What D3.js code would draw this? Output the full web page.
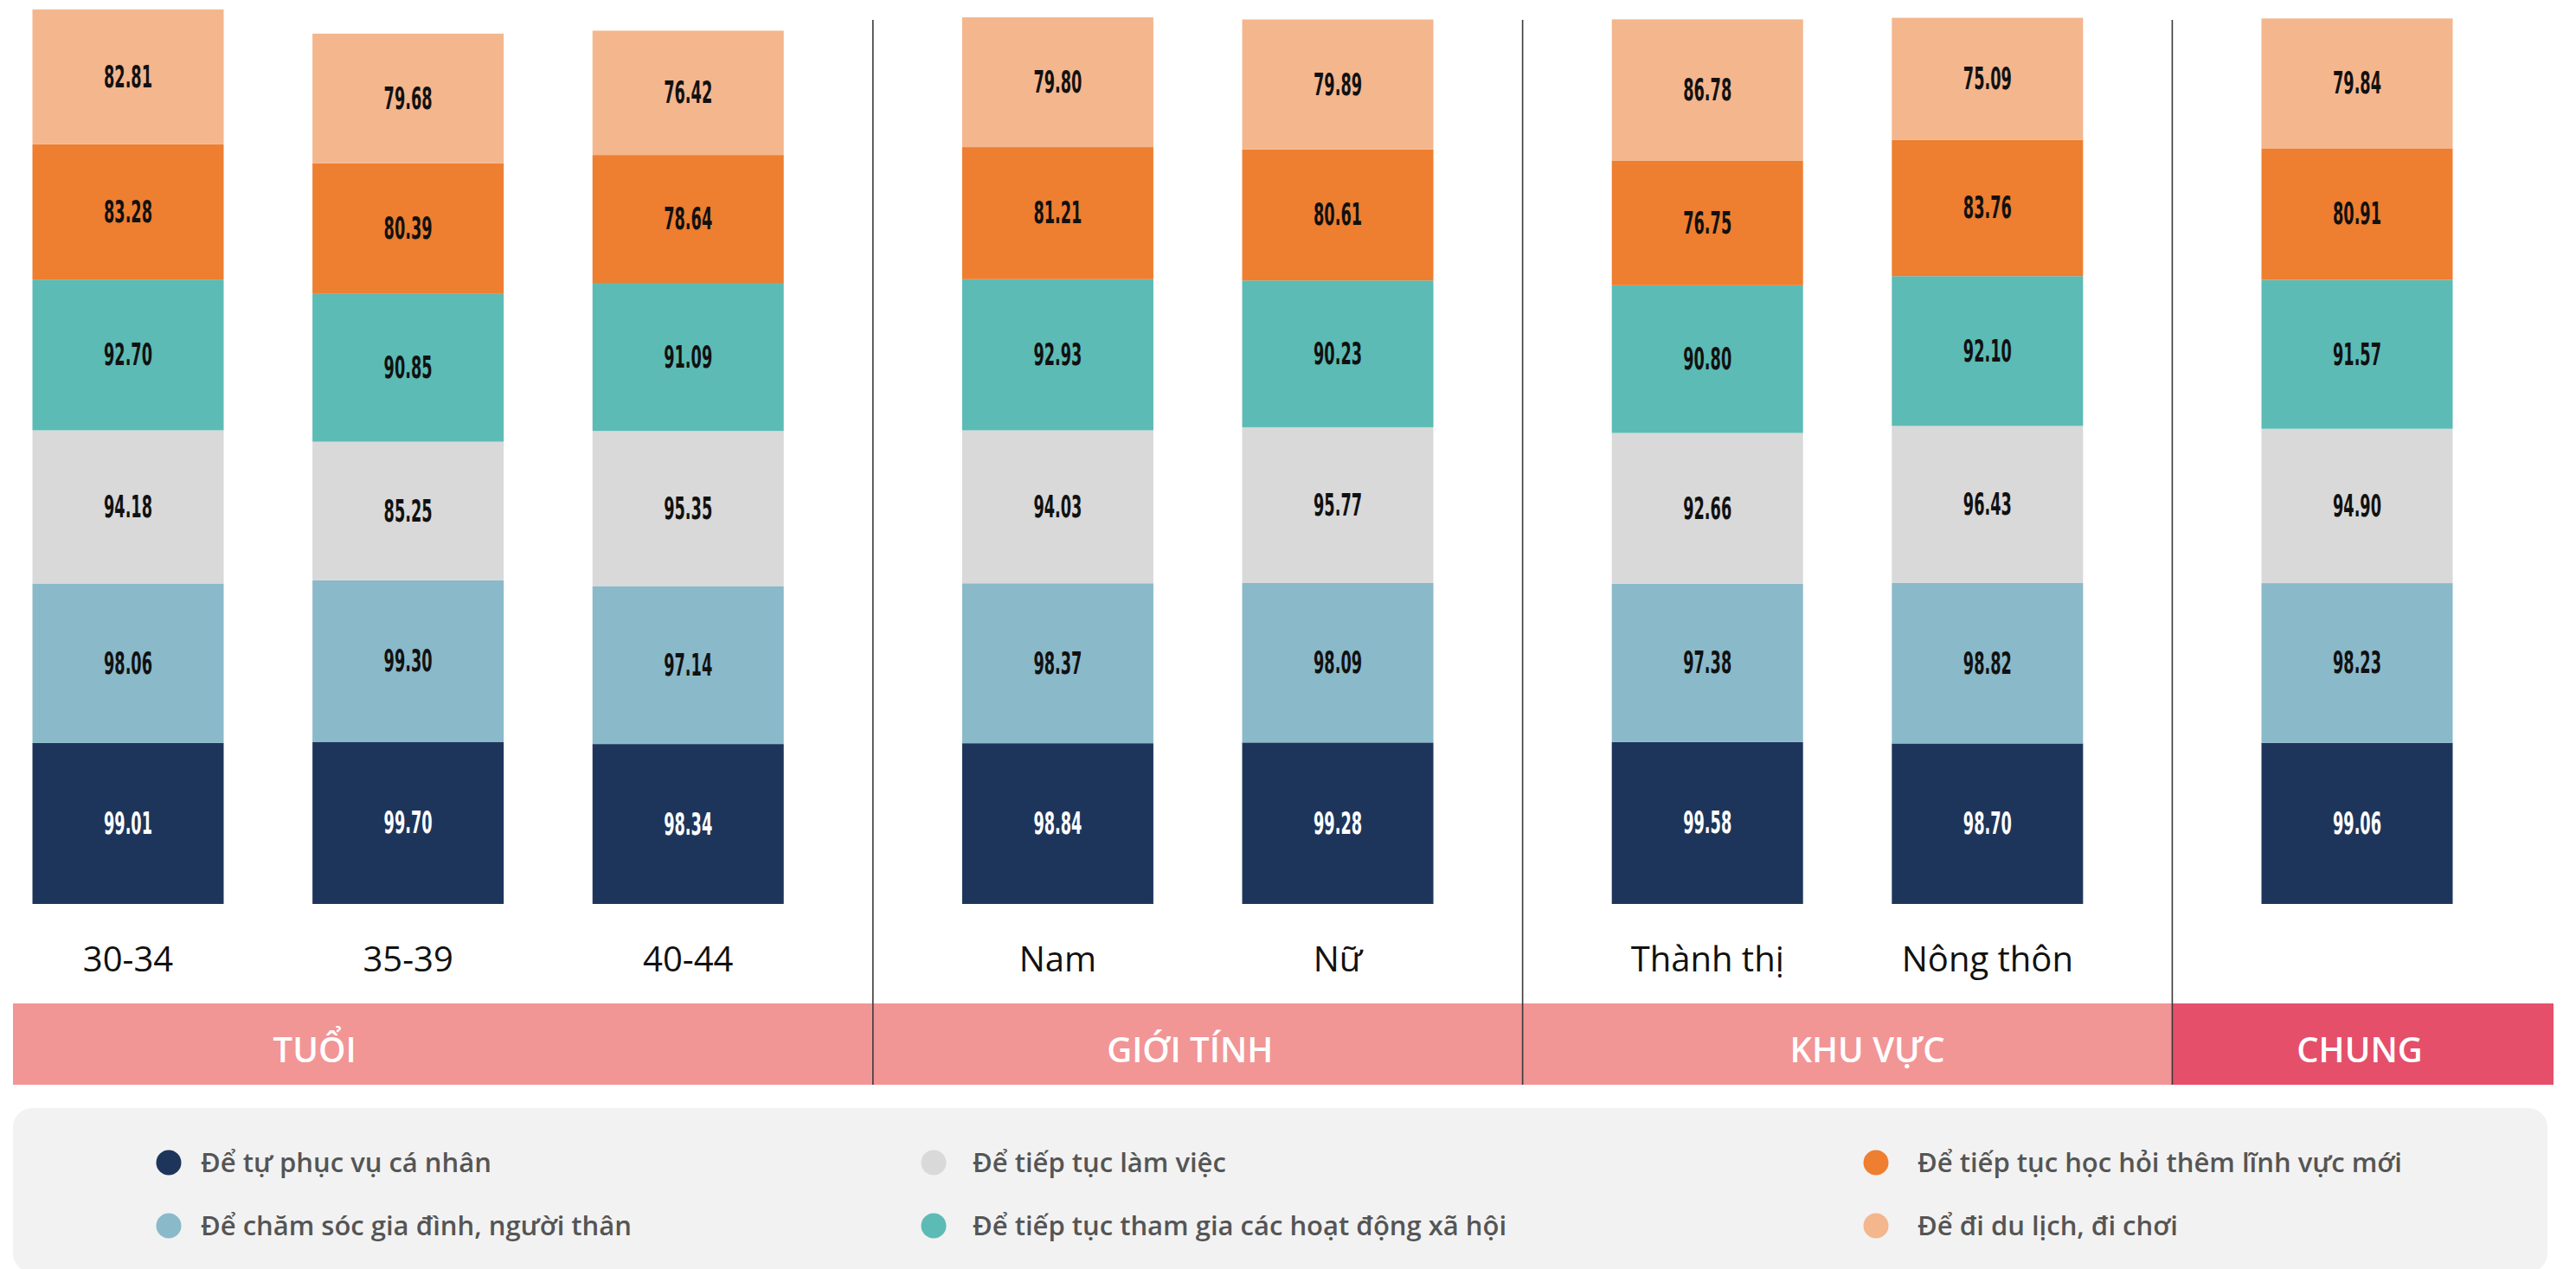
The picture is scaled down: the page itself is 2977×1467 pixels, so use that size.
<!DOCTYPE html>
<html>
<head>
<meta charset="utf-8">
<script src="https://cdn.jsdelivr.net/npm/d3@7"></script>
<style>
  html, body { margin: 0; padding: 0; background: #ffffff; }
  svg { display: block; }
</style>
</head>
<body>
<svg id="chart" width="2977" height="1467"></svg>
<script>
// ---------------- DATA ----------------
const categories = ["30-34", "35-39", "40-44", "Nam", "Nữ", "Thành thị", "Nông thôn", "Chung"];
const categoryLabels = ["30-34", "35-39", "40-44", "Nam", "Nữ", "Thành thị", "Nông thôn", ""];
const groups = ["TUỔI", "GIỚI TÍNH", "KHU VỰC", "CHUNG"];
const groupOf = [0, 0, 0, 1, 1, 2, 2, 3];

const seriesNames = [
  "Để tự phục vụ cá nhân",
  "Để chăm sóc gia đình, người thân",
  "Để tiếp tục làm việc",
  "Để tiếp tục tham gia các hoạt động xã hội",
  "Để tiếp tục học hỏi thêm lĩnh vực mới",
  "Để đi du lịch, đi chơi"
];
const selfCare = [99.01, 99.70, 98.34, 98.84, 99.28, 99.58, 98.70, 99.06];
const family   = [98.06, 99.30, 97.14, 98.37, 98.09, 97.38, 98.82, 98.23];
const work     = [94.18, 85.25, 95.35, 94.03, 95.77, 92.66, 96.43, 94.90];
const social   = [92.70, 90.85, 91.09, 92.93, 90.23, 90.80, 92.10, 91.57];
const learn    = [83.28, 80.39, 78.64, 81.21, 80.61, 76.75, 83.76, 80.91];
const travel   = [82.81, 79.68, 76.42, 79.80, 79.89, 86.78, 75.09, 79.84];

// ---------------- STYLE / LAYOUT ----------------
const colors = ["#1E355B", "#8AB9CA", "#D9D9D9", "#5CBBB5", "#EE7E30", "#F4B68D"];
const labelColors = ["#ffffff", "#111111", "#111111", "#111111", "#111111", "#111111"];
const bandColors = ["#F29595", "#F29595", "#F29595", "#E54F6A"];

const svg = d3.select("#chart");

const keys = ["s0", "s1", "s2", "s3", "s4", "s5"];
const seriesArrays = [selfCare, family, work, social, learn, travel];
const rows = categories.map((c, i) => {
  const r = { cat: c, i: i, g: groupOf[i] };
  keys.forEach((k, j) => r[k] = seriesArrays[j][i]);
  return r;
});
const stacked = d3.stack().keys(keys)(rows);

// x: slot position = bar index + group index * group gap (in bar steps)
const groupGap = 0.32;
const slot = d => d.i + d.g * groupGap;
const maxSlot = (categories.length - 1) + (groups.length - 1) * groupGap;
const x = d3.scaleLinear().domain([0, maxSlot]).range([148, 2724]);
const barW = 221;

// y: value units to pixels
const y = d3.scaleLinear().domain([0, 550]).range([1045, 1045 - 550 * 1.88]);

// bars
const layers = svg.append("g").selectAll("g.layer")
  .data(stacked).join("g")
  .attr("class", "layer")
  .attr("fill", (d, j) => colors[j]);

layers.selectAll("rect")
  .data(d => d).join("rect")
  .attr("x", d => x(slot(d.data)) - barW / 2)
  .attr("width", barW)
  .attr("y", d => y(d[1]))
  .attr("height", d => y(d[0]) - y(d[1]));

// value labels (tall condensed numerals)
stacked.forEach((layer, j) => {
  svg.append("g").selectAll("text")
    .data(layer).join("text")
    .attr("x", d => x(slot(d.data)))
    .attr("y", d => (y(d[0]) + y(d[1])) / 2 + 12)
    .attr("text-anchor", "middle")
    .attr("font-family", "'DejaVu Sans Condensed', 'DejaVu Sans', sans-serif")
    .attr("font-weight", "bold")
    .attr("font-size", 35)
    .attr("textLength", 56)
    .attr("lengthAdjust", "spacingAndGlyphs")
    .attr("fill", labelColors[j])
    .text(d => d.data[keys[j]].toFixed(2));
});

// category labels
svg.append("g").selectAll("text")
  .data(rows).join("text")
  .attr("x", d => x(slot(d)))
  .attr("y", 1123)
  .attr("text-anchor", "middle")
  .attr("font-family", "'Open Sans', sans-serif")
  .attr("font-size", 40)
  .attr("fill", "#111111")
  .text(d => categoryLabels[d.i]);

// group panels / band
const groupBars = groups.map((g, gi) => rows.filter(r => r.g === gi));
const dividers = [];
for (let gi = 1; gi < groups.length; gi++) {
  const prev = groupBars[gi - 1][groupBars[gi - 1].length - 1];
  const next = groupBars[gi][0];
  dividers.push((x(slot(prev)) + x(slot(next))) / 2);
}
const bandLeft = 15, bandRight = 2951, bandTop = 1160, bandBottom = 1254;
const edges = [bandLeft, ...dividers, bandRight];

svg.append("g").selectAll("rect")
  .data(groups).join("rect")
  .attr("x", (d, gi) => edges[gi])
  .attr("width", (d, gi) => edges[gi + 1] - edges[gi])
  .attr("y", bandTop)
  .attr("height", bandBottom - bandTop)
  .attr("fill", (d, gi) => bandColors[gi]);

const labelShift = [-108, -9, 23, 3];
svg.append("g").selectAll("text")
  .data(groups).join("text")
  .attr("x", (d, gi) => {
    const bars = groupBars[gi];
    return (x(slot(bars[0])) + x(slot(bars[bars.length - 1]))) / 2 + labelShift[gi];
  })
  .attr("y", 1228)
  .attr("text-anchor", "middle")
  .attr("font-family", "'Open Sans', sans-serif")
  .attr("font-weight", 600)
  .attr("font-size", 40)
  .attr("fill", "#ffffff")
  .text(d => d);

// divider lines
svg.append("g").selectAll("line")
  .data(dividers).join("line")
  .attr("x1", d => d).attr("x2", d => d)
  .attr("y1", 23).attr("y2", bandBottom)
  .attr("stroke", "#3a3a3a")
  .attr("stroke-width", 1.6);

// legend
svg.append("rect")
  .attr("x", 15).attr("y", 1281)
  .attr("width", 2929).attr("height", 190)
  .attr("rx", 22).attr("ry", 22)
  .attr("fill", "#F2F2F2");

const legendCols = [195, 1079, 2168];
const legendRows = [1344, 1417];
const legendTextDx = [37, 45, 48];
const legend = svg.append("g").selectAll("g")
  .data(seriesNames).join("g")
  .attr("transform", (d, j) => `translate(${legendCols[Math.floor(j / 2)]},${legendRows[j % 2]})`);
legend.append("circle")
  .attr("r", 14.5)
  .attr("fill", (d, j) => colors[j]);
legend.append("text")
  .attr("x", (d, j) => legendTextDx[Math.floor(j / 2)])
  .attr("y", 11)
  .attr("font-family", "'Open Sans', sans-serif")
  .attr("font-weight", 600)
  .attr("font-size", 31)
  .attr("fill", "#555555")
  .text(d => d);
</script>
</body>
</html>
